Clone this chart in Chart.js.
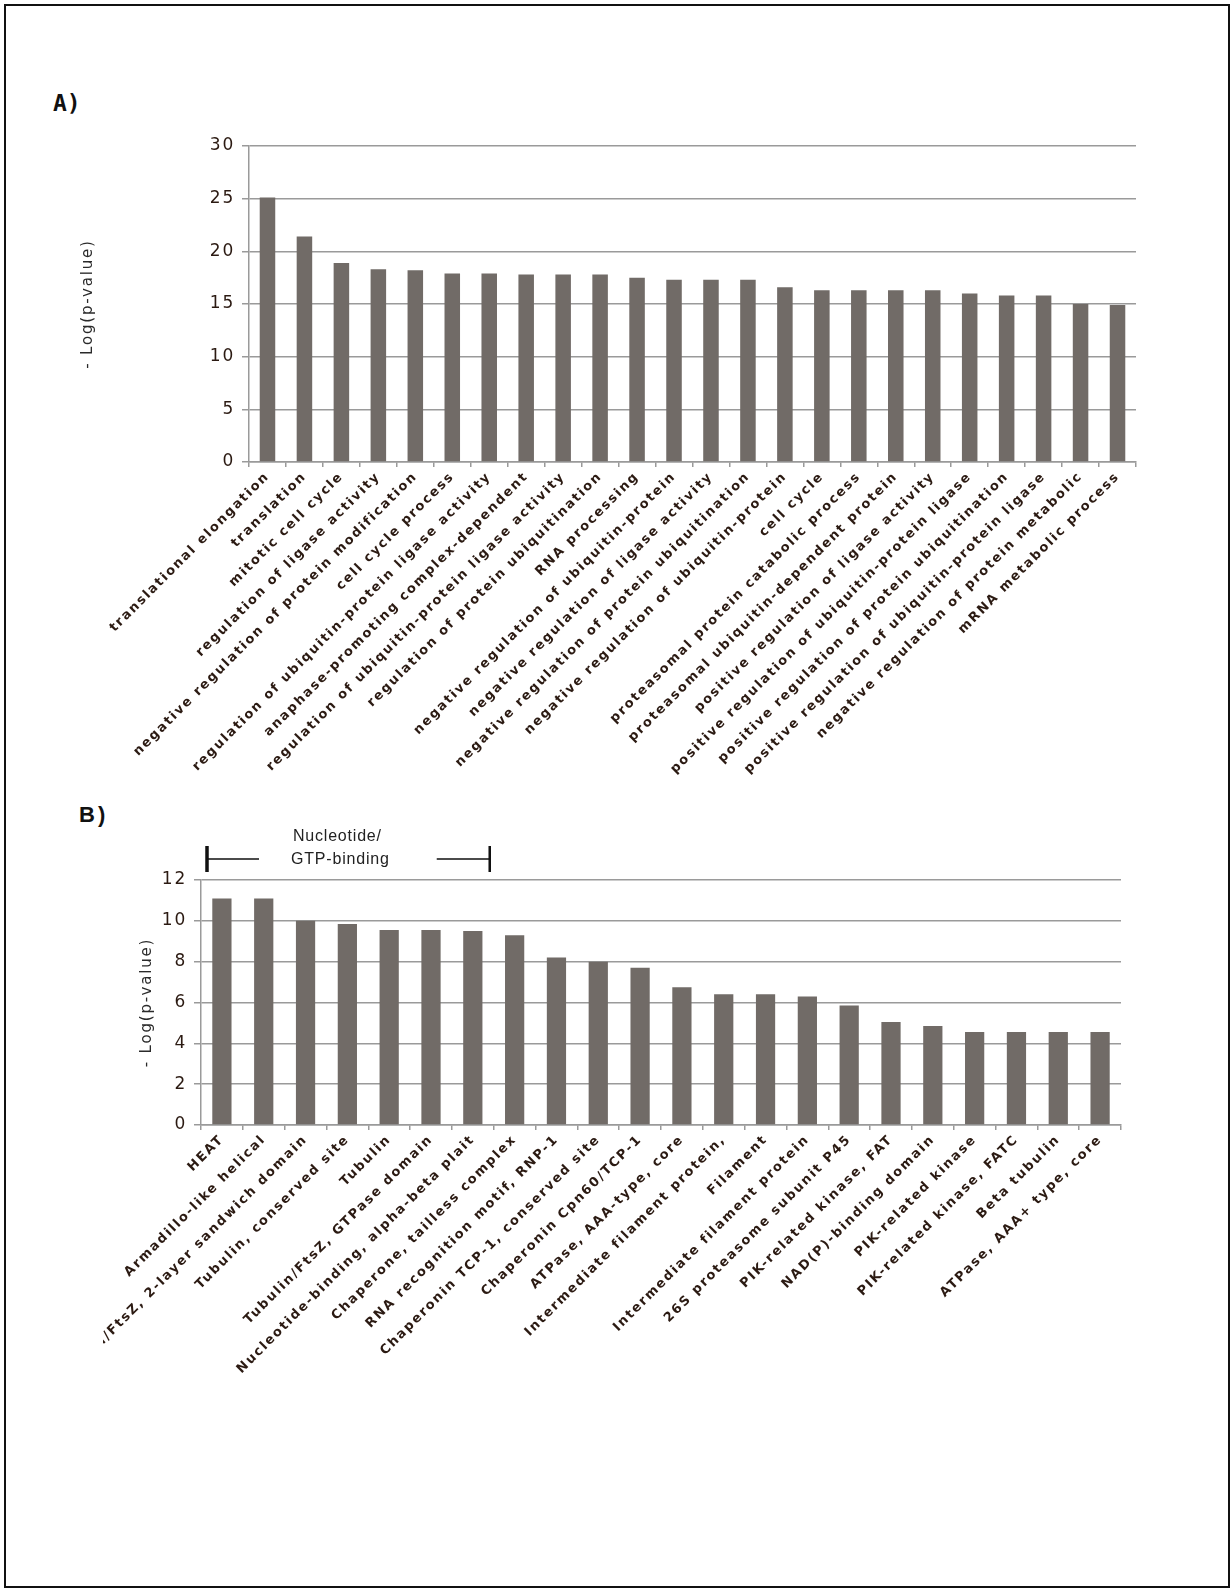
<!DOCTYPE html>
<html>
<head>
<meta charset="utf-8">
<script src="https://cdn.jsdelivr.net/npm/chart.js@4.4.1/dist/chart.umd.min.js"></script>
<style>
  html, body { margin: 0; padding: 0; background: #fff; }
  body { width: 1232px; height: 1590px; position: relative; overflow: hidden; }
  #frame { position: absolute; left: 4px; top: 4px; width: 1222px; height: 1580px; border: 2px solid #111; }
  .panel-label { position: absolute; color: #111; white-space: nowrap; }
  #lblA { left: 53px; top: 90px; font: bold 23px "DejaVu Sans Mono", monospace; }
  #lblB { left: 79px; top: 802px; font: bold 22px "Liberation Sans", Arial, sans-serif; letter-spacing: 3px; }
  canvas { position: absolute; }
  #chartA { left: 0; top: 0; }
  #chartB { left: 103px; top: 780px; }
</style>
</head>
<body>
<div id="frame"></div>
<div id="lblA" class="panel-label">A)</div>
<div id="lblB" class="panel-label">B)</div>
<canvas id="chartA" width="1232" height="800"></canvas>
<canvas id="chartB" width="1129" height="660"></canvas>

<script>
// ---- Panel A: GO terms ----
const termsA = [
  'translational elongation',
  'translation',
  'mitotic cell cycle',
  'regulation of ligase activity',
  'negative regulation of protein modification',
  'cell cycle process',
  'regulation of ubiquitin-protein ligase activity',
  'anaphase-promoting complex-dependent',
  'regulation of ubiquitin-protein ligase activity',
  'regulation of protein ubiquitination',
  'RNA processing',
  'negative regulation of ubiquitin-protein',
  'negative regulation of ligase activity',
  'negative regulation of protein ubiquitination',
  'negative regulation of ubiquitin-protein',
  'cell cycle',
  'proteasomal protein catabolic process',
  'proteasomal ubiquitin-dependent protein',
  'positive regulation of ligase activity',
  'positive regulation of ubiquitin-protein ligase',
  'positive regulation of protein ubiquitination',
  'positive regulation of ubiquitin-protein ligase',
  'negative regulation of protein metabolic',
  'mRNA metabolic process'
];
const scoresA = [25.1, 21.4, 18.9, 18.3, 18.2, 17.9, 17.9, 17.8, 17.8, 17.8, 17.5, 17.3,
                 17.3, 17.3, 16.6, 16.3, 16.3, 16.3, 16.3, 16.0, 15.8, 15.8, 15.0, 14.9];
const yTicksA = [0, 5, 10, 15, 20, 25, 30];

// ---- Panel B: protein domains ----
const domainsB = [
  'HEAT',
  'Armadillo-like helical',
  'Tubulin/FtsZ, 2-layer sandwich domain',
  'Tubulin, conserved site',
  'Tubulin',
  'Tubulin/FtsZ, GTPase domain',
  'Nucleotide-binding, alpha-beta plait',
  'Chaperone, tailless complex',
  'RNA recognition motif, RNP-1',
  'Chaperonin TCP-1, conserved site',
  'Chaperonin Cpn60/TCP-1',
  'ATPase, AAA-type, core',
  'Intermediate filament protein,',
  'Filament',
  'Intermediate filament protein',
  '26S proteasome subunit P45',
  'PIK-related kinase, FAT',
  'NAD(P)-binding domain',
  'PIK-related kinase',
  'PIK-related kinase, FATC',
  'Beta tubulin',
  'ATPase, AAA+ type, core'
];
const scoresB = [11.1, 11.1, 10.0, 9.85, 9.55, 9.55, 9.5, 9.3, 8.2, 8.0, 7.7,
                 6.75, 6.4, 6.4, 6.3, 5.85, 5.05, 4.85, 4.55, 4.55, 4.55, 4.55];
const yTicksB = [0, 2, 4, 6, 8, 10, 12];

const axisTitle = '- Log(p-value)';
const bracketText = ['Nucleotide/', 'GTP-binding'];
const bracketRange = [0, 6];   // first and last domain under the bracket

// ---- shared styling ----
const BAR = '#716b67';
const GRID = '#9a9a9a';
const TEXT = '#2b1a12';
const SPACING = '1.8px';
const LABEL_ANGLE = 45;

// widen the glyph spacing of all chart text (measured during layout and used when drawing)
const spacingPlugin = {
  id: 'spacing',
  beforeUpdate(chart) { chart.ctx.letterSpacing = SPACING; },
  beforeDraw(chart) { chart.ctx.letterSpacing = SPACING; }
};

// bracket over the nucleotide / GTP-binding domains
const bracketPlugin = {
  id: 'bracket',
  afterDraw(chart) {
    const { ctx, chartArea } = chart;
    const xs = chart.scales.x;
    const step = xs.getPixelForValue(1) - xs.getPixelForValue(0);
    const x0 = xs.getPixelForValue(bracketRange[0]) - step / 2 + 6;
    const x1 = xs.getPixelForValue(bracketRange[1]) + step / 2 - 4;
    const ym = chartArea.top - 21;
    ctx.save();
    ctx.strokeStyle = '#111';
    ctx.lineWidth = 3.5;
    ctx.beginPath();
    ctx.moveTo(x0, ym - 13); ctx.lineTo(x0, ym + 13);
    ctx.stroke();
    ctx.lineWidth = 2.5;
    ctx.beginPath();
    ctx.moveTo(x1, ym - 13); ctx.lineTo(x1, ym + 13);
    ctx.stroke();
    ctx.lineWidth = 1.6;
    ctx.beginPath();
    ctx.moveTo(x0, ym); ctx.lineTo(x0 + 52, ym);
    ctx.moveTo(x1 - 53, ym); ctx.lineTo(x1, ym);
    ctx.stroke();
    ctx.letterSpacing = '0.8px';
    ctx.font = '16px "Liberation Sans", Arial, sans-serif';
    ctx.fillStyle = '#222';
    ctx.textAlign = 'center';
    ctx.textBaseline = 'middle';
    const cx = (x0 + x1) / 2 - 8;
    ctx.fillText(bracketText[0], cx - 3, ym - 22);
    ctx.fillText(bracketText[1], cx, ym + 1);
    ctx.restore();
  }
};

function buildChart(id, labels, values, yTicks, g, extra) {
  const yMin = yTicks[0], yMax = yTicks[yTicks.length - 1];
  const step = yTicks[1] - yTicks[0];
  return new Chart(document.getElementById(id), {
    type: 'bar',
    data: {
      labels: labels,
      datasets: [{
        data: values,
        backgroundColor: BAR,
        borderWidth: 0,
        barPercentage: g.bar,
        categoryPercentage: 1.0
      }]
    },
    options: {
      responsive: false,
      animation: false,
      events: [],
      layout: { padding: { left: 0, top: g.top, right: g.right, bottom: 0 } },
      plugins: { legend: { display: false }, tooltip: { enabled: false } },
      scales: {
        x: {
          offset: true,
          grid: { offset: true, drawOnChartArea: false, drawTicks: true, tickLength: 5, color: GRID, lineWidth: 1.5 },
          border: { display: true, color: GRID, width: 1.5 },
          ticks: {
            autoSkip: false, minRotation: LABEL_ANGLE, maxRotation: LABEL_ANGLE, padding: 2,
            color: TEXT,
            font: { family: '"DejaVu Sans", sans-serif', weight: 'bold', size: 13 }
          },
          afterFit(s) { s.height = g.xh; s.paddingLeft = 0; s.paddingRight = 0; }
        },
        y: {
          min: yMin, max: yMax,
          afterBuildTicks(s) { s.ticks = yTicks.map(v => ({ value: v })); },
          ticks: {
            stepSize: step, padding: 7, color: TEXT,
            font: { family: '"DejaVu Sans", sans-serif', size: 17 }
          },
          grid: { color: GRID, lineWidth: 1.5, drawTicks: true, tickLength: 7 },
          border: { display: true, color: GRID, width: 1.5 },
          title: {
            display: true, text: axisTitle, color: '#2a2a2a',
            font: { family: '"DejaVu Sans", sans-serif', size: 15 },
            padding: { top: g.titlePad, bottom: 0 }
          },
          afterFit(s) { s.width = g.yw; s.paddingTop = 0; s.paddingBottom = 0; }
        }
      }
    },
    plugins: [spacingPlugin].concat(extra || [])
  });
}

// plot area A: x 249..1136, y 146..462 (page px)
buildChart('chartA', termsA, scoresA, yTicksA,
  { top: 146, right: 96, xh: 338, yw: 249, titlePad: 79, bar: 0.42 });

// plot area B: x 201..1121, y 880..1125 (page px); canvas origin at (103, 780)
buildChart('chartB', domainsB, scoresB, yTicksB,
  { top: 100, right: 111, xh: 315, yw: 98, titlePad: 35, bar: 0.46 }, [bracketPlugin]);
</script>
</body>
</html>
